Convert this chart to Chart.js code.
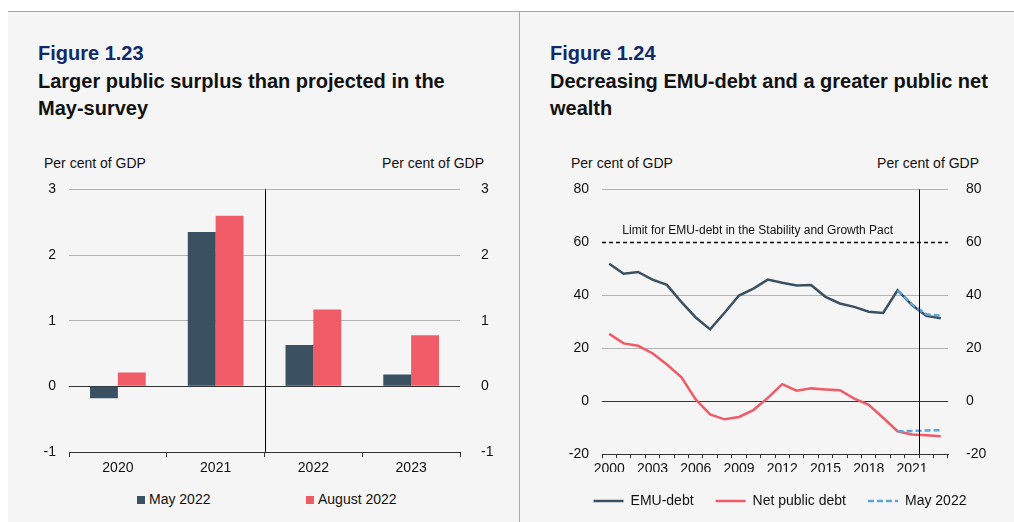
<!DOCTYPE html>
<html lang="en">

<head>
    <meta charset="UTF-8" />
    <title>Figures 1.23 and 1.24</title>
    <style>
        body {
            margin: 0;
            background: #fff;
            font-family: 'Liberation Sans', Arial, sans-serif;
            color: #111;
        }

        .page {
            position: relative;
            width: 1014px;
            height: 522px;
            overflow: hidden;
        }

        /* grey panel behind both figures */
        .panel {
            position: absolute;
            left: 8px;
            top: 11px;
            width: 1006px;
            height: 511px;
            background: #f5f5f5;
            border-top: 1px solid #a8a8a8;
        }

        .divider {
            position: absolute;
            left: 519px;
            top: 11px;
            width: 1px;
            height: 511px;
            background: #a8a8a8;
        }

        .fig {
            position: absolute;
            top: 40px;
            font-weight: 700;
            font-size: 20px;
            line-height: 27.5px;
            color: #111;
        }

        .fig .num {
            color: #10296a;
        }

        .unit {
            position: absolute;
            top: 155px;
            font-size: 14px;
            line-height: 16px;
            white-space: nowrap;
        }

        .box {
            position: absolute;
        }

        .legend {
            position: absolute;
            top: 491px;
            font-size: 14px;
            line-height: 16px;
            white-space: nowrap;
        }

        .legend i {
            display: inline-block;
            width: 8px;
            height: 8px;
            margin-right: 4px;
            vertical-align: 0px;
        }
    </style>
</head>

<body>
    <div class="page">
        <div class="panel"></div>
        <div class="divider"></div>

        <!-- Figure 1.23 -->
        <div class="fig" style="left:38px;">
            <div class="num">Figure 1.23</div>
            <div>Larger public surplus than projected in the<br>May-survey</div>
        </div>
        <div class="unit" style="left:44px;">Per cent of GDP</div>
        <div class="unit" style="right:530px;">Per cent of GDP</div>
        <div class="box" style="left:20px; top:168px; width:480px; height:318px;">
            <canvas id="balanceChart"></canvas>
        </div>
        <div class="legend" style="left:137px;"><i style="background:#3b5162"></i>May 2022</div>
        <div class="legend" style="left:306px;"><i style="background:#ef5c68"></i>August 2022</div>

        <!-- Figure 1.24 -->
        <div class="fig" style="left:550px;">
            <div class="num">Figure 1.24</div>
            <div>Decreasing EMU-debt and a greater public net<br>wealth</div>
        </div>
        <div class="unit" style="left:571px;">Per cent of GDP</div>
        <div class="unit" style="right:35px;">Per cent of GDP</div>
        <div class="box" style="left:530px; top:168px; width:484px; height:350px;">
            <canvas id="debtChart"></canvas>
        </div>
    </div>

    <script src="https://cdn.jsdelivr.net/npm/chart.js"></script>
    <script>
        // Figure 1.23 data
        const barYears = ['2020', '2021', '2022', '2023'];
        const may2022Balance = [-0.18, 2.35, 0.63, 0.18];
        const aug2022Balance = [0.21, 2.6, 1.17, 0.78];

        // Figure 1.24 data
        const debtYears = ['2000', '2001', '2002', '2003', '2004', '2005', '2006', '2007',
            '2008', '2009', '2010', '2011', '2012', '2013', '2014', '2015',
            '2016', '2017', '2018', '2019', '2020', '2021', '2022', '2023'];
        const emuDebt = [51.9, 48.1, 48.8, 45.9, 43.9, 37.5, 31.6, 27.1,
            33.4, 39.9, 42.5, 45.9, 44.7, 43.7, 43.9, 39.4,
            36.9, 35.6, 33.8, 33.3, 41.9, 36.3, 32.2, 31.3];
        const netPublicDebt = [25.4, 21.8, 20.9, 18.1, 13.8, 9.1, 0.6, -5.0,
            -6.9, -6.0, -3.4, 1.2, 6.4, 3.9, 4.8, 4.4,
            4.1, 0.9, -1.4, -6.3, -11.4, -12.6, -12.9, -13.3];
        const mayEmuDebt = [null, null, null, null, null, null, null, null,
            null, null, null, null, null, null, null, null,
            null, null, null, null, 41.9, 36.6, 32.8, 32.3];
        const mayNetDebt = [null, null, null, null, null, null, null, null,
            null, null, null, null, null, null, null, null,
            null, null, null, null, -11.4, -11.3, -11.1, -11.0];
        const xTickLabels = ['2000', '2003', '2006', '2009', '2012', '2015', '2018', '2021'];
        const emuDebtLimit = 60;
        const limitText = 'Limit for EMU-debt in the Stability and Growth Pact';

        const dark = '#3b5162';
        const red = '#ef5c68';
        const blue = '#5ba6d6';
        const textColor = '#111';
        const gridGrey = '#b3b3b3';
        const tickFont = { family: "'Liberation Sans', Arial, sans-serif", size: 14 };

        Chart.defaults.font.family = tickFont.family;
        Chart.defaults.color = textColor;

        // vertical black line between two categories (forecast split)
        const splitLine = {
            id: 'splitLine',
            afterDatasetsDraw(chart, args, opts) {
                const { ctx, chartArea, scales } = chart;
                const x = Math.round(scales.x.getPixelForValue(opts.at)) + 0.5;
                ctx.save();
                ctx.strokeStyle = '#000';
                ctx.lineWidth = 1;
                ctx.beginPath();
                ctx.moveTo(x, chartArea.top);
                ctx.lineTo(x, chartArea.bottom);
                ctx.stroke();
                ctx.restore();
            }
        };

        // dashed 60 % limit line with its label
        const limitLine = {
            id: 'limitLine',
            beforeDatasetsDraw(chart) {
                const { ctx, chartArea, scales } = chart;
                const y = Math.round(scales.y.getPixelForValue(emuDebtLimit)) + 0.5;
                ctx.save();
                ctx.strokeStyle = '#000';
                ctx.lineWidth = 1.5;
                ctx.setLineDash([4, 3]);
                ctx.beginPath();
                ctx.moveTo(chartArea.left, y);
                ctx.lineTo(chartArea.right, y);
                ctx.stroke();
                ctx.setLineDash([]);
                ctx.fillStyle = textColor;
                ctx.font = "12px 'Liberation Sans', Arial, sans-serif";
                ctx.textAlign = 'center';
                ctx.textBaseline = 'alphabetic';
                ctx.fillText(limitText, chartArea.left + chartArea.width * 0.45, y - 9);
                ctx.restore();
            }
        };

        function gridColor(min, hidden) {
            return (c) => {
                const v = c.tick.value;
                if (v === hidden) return 'rgba(0,0,0,0)';
                if (v === 0 || v === min) return '#333';
                return gridGrey;
            };
        }

        // legend entries drawn as short lines, dashed where the series is dashed
        function lineLegendLabels(chart) {
            const items = Chart.defaults.plugins.legend.labels.generateLabels(chart);
            items.forEach((it) => {
                const ds = chart.data.datasets[it.datasetIndex];
                it.lineDash = ds.borderDash || [];
                it.lineWidth = ds.borderWidth;
                it.strokeStyle = ds.borderColor;
            });
            return items;
        }

        // Figure 1.23: bars
        new Chart(document.getElementById('balanceChart'), {
            type: 'bar',
            data: {
                labels: barYears,
                datasets: [{
                    label: 'May 2022',
                    data: may2022Balance,
                    backgroundColor: dark,
                    categoryPercentage: 0.57,
                    barPercentage: 1
                }, {
                    label: 'August 2022',
                    data: aug2022Balance,
                    backgroundColor: red,
                    categoryPercentage: 0.57,
                    barPercentage: 1
                }]
            },
            options: {
                responsive: true,
                maintainAspectRatio: false,
                animation: false,
                layout: { padding: { top: 4, left: 0, right: 0, bottom: 0 } },
                plugins: {
                    legend: { display: false },
                    tooltip: { enabled: false },
                    splitLine: { at: 1.5 }
                },
                scales: {
                    x: {
                        offset: true,
                        grid: { offset: true, drawOnChartArea: false, drawTicks: true, tickLength: 5, color: '#333' },
                        border: { display: true, color: '#333' },
                        ticks: { padding: 3, font: tickFont, color: textColor, maxRotation: 0 },
                        afterFit(a) { a.height = 34; }
                    },
                    y: {
                        position: 'left',
                        min: -1,
                        max: 3,
                        ticks: { stepSize: 1, padding: 13, font: tickFont, color: textColor },
                        grid: { drawTicks: false, color: gridColor(-1) },
                        border: { display: false },
                        afterFit(a) { a.width = 49; }
                    },
                    y2: {
                        position: 'right',
                        min: -1,
                        max: 3,
                        ticks: { stepSize: 1, padding: 13, font: tickFont, color: textColor },
                        grid: { display: false },
                        border: { display: false },
                        afterFit(a) { a.width = 40; }
                    }
                }
            },
            plugins: [splitLine]
        });

        // Figure 1.24: lines
        new Chart(document.getElementById('debtChart'), {
            type: 'line',
            data: {
                labels: debtYears,
                datasets: [{
                    label: 'EMU-debt',
                    data: emuDebt,
                    borderColor: dark,
                    backgroundColor: dark,
                    borderWidth: 2.5,
                    order: 2
                }, {
                    label: 'Net public debt',
                    data: netPublicDebt,
                    borderColor: red,
                    backgroundColor: red,
                    borderWidth: 2.5,
                    order: 2
                }, {
                    label: 'May 2022',
                    data: mayEmuDebt,
                    borderColor: blue,
                    backgroundColor: blue,
                    borderWidth: 2.5,
                    borderDash: [6, 3],
                    order: 1
                }, {
                    label: 'May 2022 net',
                    data: mayNetDebt,
                    borderColor: blue,
                    backgroundColor: blue,
                    borderWidth: 2.5,
                    borderDash: [6, 3],
                    order: 1
                }]
            },
            options: {
                responsive: true,
                maintainAspectRatio: false,
                animation: false,
                elements: { point: { radius: 0 }, line: { tension: 0 } },
                layout: { padding: { top: 4, left: 16, right: 0, bottom: 0 } },
                plugins: {
                    tooltip: { enabled: false },
                    splitLine: { at: 21.5 },
                    legend: {
                        position: 'bottom',
                        labels: {
                            usePointStyle: true,
                            pointStyle: 'line',
                            pointStyleWidth: 30,
                            boxWidth: 30,
                            padding: 22,
                            font: tickFont,
                            color: textColor,
                            generateLabels: lineLegendLabels,
                            filter: (item) => item.datasetIndex < 3,
                            sort: (a, b) => a.datasetIndex - b.datasetIndex
                        }
                    }
                },
                scales: {
                    x: {
                        offset: true,
                        grid: { offset: true, drawOnChartArea: false, drawTicks: true, tickLength: 4, color: '#333' },
                        border: { display: true, color: '#333' },
                        ticks: {
                            padding: 3,
                            font: tickFont,
                            color: textColor,
                            autoSkip: false,
                            maxRotation: 0,
                            callback(value) {
                                const lbl = this.getLabelForValue(value);
                                return xTickLabels.includes(lbl) ? lbl : '';
                            }
                        },
                        afterFit(a) { a.height = 18; }
                    },
                    y: {
                        position: 'left',
                        min: -20,
                        max: 80,
                        ticks: { stepSize: 20, padding: 13, font: tickFont, color: textColor },
                        grid: { drawTicks: false, color: gridColor(-20, emuDebtLimit) },
                        border: { display: false },
                        afterFit(a) { a.width = 56; }
                    },
                    y2: {
                        position: 'right',
                        min: -20,
                        max: 80,
                        ticks: { stepSize: 20, padding: 10, font: tickFont, color: textColor },
                        grid: { display: false },
                        border: { display: false },
                        afterFit(a) { a.width = 66; }
                    }
                }
            },
            plugins: [limitLine, splitLine]
        });
    </script>
</body>

</html>
